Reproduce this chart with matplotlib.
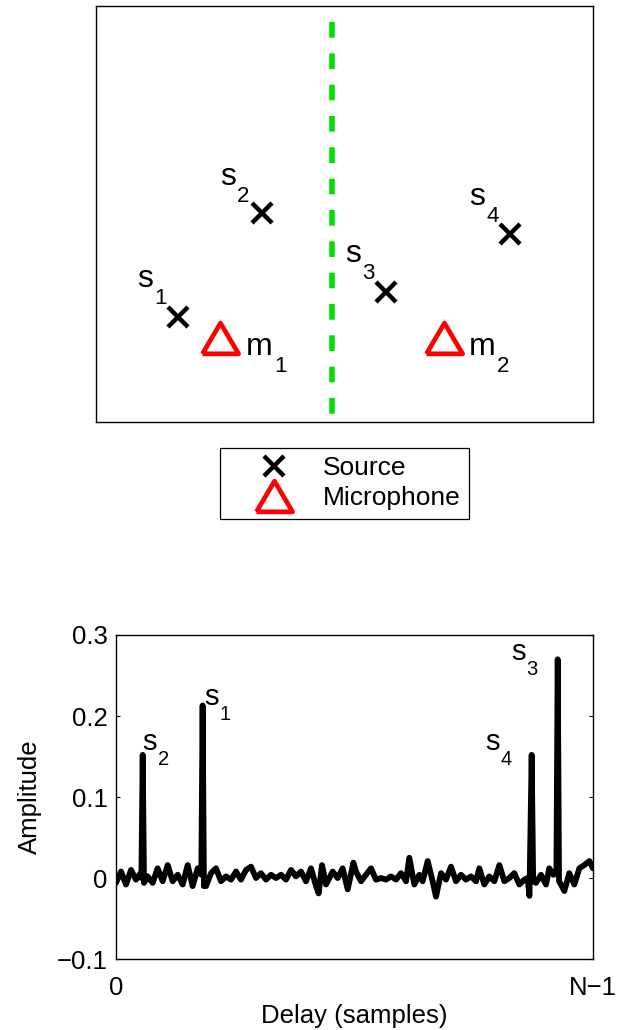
import matplotlib
matplotlib.use('Agg')
import matplotlib.pyplot as plt

plt.rcParams['font.family'] = ['Liberation Sans', 'DejaVu Sans']

# room layout (arbitrary units, room is 10 x 8)
src_x = [1.65, 3.34, 5.84, 8.33]
src_y = [2.02, 4.02, 2.50, 3.62]
src_sub = ['1', '2', '3', '4']
src_lab_x = [0.825, 2.495, 5.01, 7.505]
src_lab_y = [2.596, 4.558, 3.077, 4.173]

mic_x = [2.49, 7.00]
mic_y = [1.62, 1.62]
mic_sub = ['1', '2']
mic_lab_x = [3.018, 7.505]
mic_lab_y = [1.288, 1.288]

wall_x = 4.75
wall_top = 7.69

# impulse response (delay in samples, N = 512)
N = 512
delay = [0, 5.4, 10.7, 16.1, 21.4, 25.7, 27.2, 28.6, 30.0, 33.9, 39.3, 44.6, 50.0,
         55.4, 60.7, 66.1, 71.4, 76.8, 82.1, 87.5, 91.4, 92.8, 94.2, 96.4, 101.8,
         107.1, 112.5, 117.8, 123.2, 128.6, 133.9, 139.3, 144.6, 150.0, 155.3,
         160.7, 166.1, 171.4, 176.8, 182.1, 187.5, 192.8, 198.2, 203.5, 208.9,
         214.3, 217.1, 220.7, 225.0, 232.1, 237.5, 242.8, 248.2, 254.3, 257.1,
         262.5, 267.8, 273.2, 278.5, 283.9, 289.2, 294.6, 300.0, 305.3, 310.7,
         314.2, 319.6, 325.0, 328.5, 333.9, 339.2, 342.8, 348.2, 353.5, 358.9,
         364.2, 369.6, 374.9, 380.3, 385.7, 389.2, 394.6, 399.9, 405.3, 410.7,
         416.0, 421.4, 426.7, 432.1, 437.4, 441.0, 442.9, 445.3, 446.9, 449.9,
         455.3, 460.6, 464.2, 468.5, 471.8, 473.2, 474.6, 476.7, 480.3, 485.6,
         491.0, 496.4, 501.7, 507.1, 511.0]
amp = [-0.006, 0.008, -0.008, 0.010, -0.002, 0.005, 0.000, 0.152, -0.006, 0.002,
       -0.006, 0.012, -0.004, 0.016, -0.004, 0.004, -0.008, 0.016, -0.010, 0.012,
       0.004, 0.213, -0.010, -0.010, 0.006, 0.012, -0.004, 0.002, -0.002, 0.008,
       -0.002, 0.010, 0.014, 0.000, 0.006, -0.002, 0.004, 0.000, 0.004, -0.002,
       0.010, 0.002, 0.008, -0.004, 0.012, -0.010, -0.019, 0.016, -0.008, 0.008,
       0.000, 0.012, -0.014, 0.019, 0.008, -0.004, 0.004, 0.012, -0.002, 0.000,
       -0.002, 0.002, -0.002, 0.006, -0.004, 0.025, -0.008, 0.004, -0.004, 0.021,
       -0.004, -0.023, 0.006, -0.002, 0.014, -0.004, 0.004, -0.002, 0.002, -0.004,
       0.012, -0.008, 0.002, -0.004, 0.016, -0.004, 0.000, 0.006, -0.008, -0.002,
       0.000, -0.022, 0.152, -0.004, -0.006, 0.004, -0.008, 0.012, 0.004, 0.006,
       0.270, -0.004, -0.008, -0.016, 0.006, -0.008, 0.012, 0.016, 0.021, 0.012]

peak_sub = ['2', '1', '4', '3']
peak_lab_x = [28.6, 94.3, 395.3, 423.2]
peak_lab_y = [0.158, 0.2136, 0.158, 0.269]

y_ticks = [-0.1, 0, 0.1, 0.2, 0.3]
y_tick_labels = ['\u22120.1', '0', '0.1', '0.2', '0.3']
x_tick_labels = ['0', 'N\u22121']


def sub_label(ax, x, y, main, sub, fs, fs_sub, dx, dy):
    ax.text(x, y, main, fontsize=fs, ha='left', va='baseline')
    ax.annotate(sub, xy=(x, y), xytext=(dx, dy), textcoords='offset points',
                fontsize=fs_sub, ha='left', va='baseline')


fig = plt.figure(figsize=(6.25, 10.3), dpi=100)

# top: room
ax1 = fig.add_axes([0.1536, 0.5903, 0.7952, 0.4039])
ax1.plot([wall_x, wall_x], [wall_top, 0], color='#00e000', lw=4, dashes=(2.82, 2.82))
h_src, = ax1.plot(src_x, src_y, 'x', color='black', ms=15, mew=3.2, linestyle='none',
                  label='Source')
tri = [(-1, -0.85), (1, -0.85), (0, 0.85), (-1, -0.85)]
h_mic, = ax1.plot(mic_x, mic_y, marker=tri, color='red', mfc='none', ms=26, mew=3.4,
                  linestyle='none', label='Microphone')
for x, y, s in zip(src_lab_x, src_lab_y, src_sub):
    sub_label(ax1, x, y, 's', s, 23, 16, 12.5, -12)
for x, y, s in zip(mic_lab_x, mic_lab_y, mic_sub):
    sub_label(ax1, x, y, 'm', s, 23, 16, 20, -12)
ax1.set_xlim(0, 10)
ax1.set_ylim(0, 8)
ax1.set_xticks([])
ax1.set_yticks([])
for sp in ax1.spines.values():
    sp.set_linewidth(1.0)

leg = fig.legend(handles=[h_src, h_mic], loc='upper center',
                 bbox_to_anchor=(0.5512, 0.5650), fontsize=19, numpoints=1,
                 handlelength=3.48, handletextpad=0.11, labelspacing=0.22,
                 borderpad=0.32, borderaxespad=0, fancybox=False, framealpha=1,
                 edgecolor='black')
leg.get_frame().set_linewidth(0.9)

# bottom: impulse response
ax2 = fig.add_axes([0.1856, 0.0689, 0.7632, 0.3146])
ax2.plot(delay, amp, color='black', lw=4.2, solid_joinstyle='round',
         solid_capstyle='round')
for x, y, s in zip(peak_lab_x, peak_lab_y, peak_sub):
    sub_label(ax2, x, y, 's', s, 21, 14.5, 11, -11)
ax2.set_xlim(0, N - 1)
ax2.set_ylim(-0.1, 0.3)
ax2.set_yticks(y_ticks)
ax2.set_yticklabels(y_tick_labels)
ax2.set_xticks([0, N - 1])
ax2.set_xticklabels(x_tick_labels)
ax2.tick_params(axis='y', direction='in', length=3, width=0.8, right=True,
                labelsize=18.5, pad=6)
ax2.tick_params(axis='x', direction='in', length=0, labelsize=18.5, pad=12)
ax2.set_ylabel('Amplitude', fontsize=18.5, labelpad=11)
ax2.set_xlabel('Delay (samples)', fontsize=18.5, labelpad=3)
for sp in ax2.spines.values():
    sp.set_linewidth(1.0)

fig.savefig('out.png', dpi=100)
